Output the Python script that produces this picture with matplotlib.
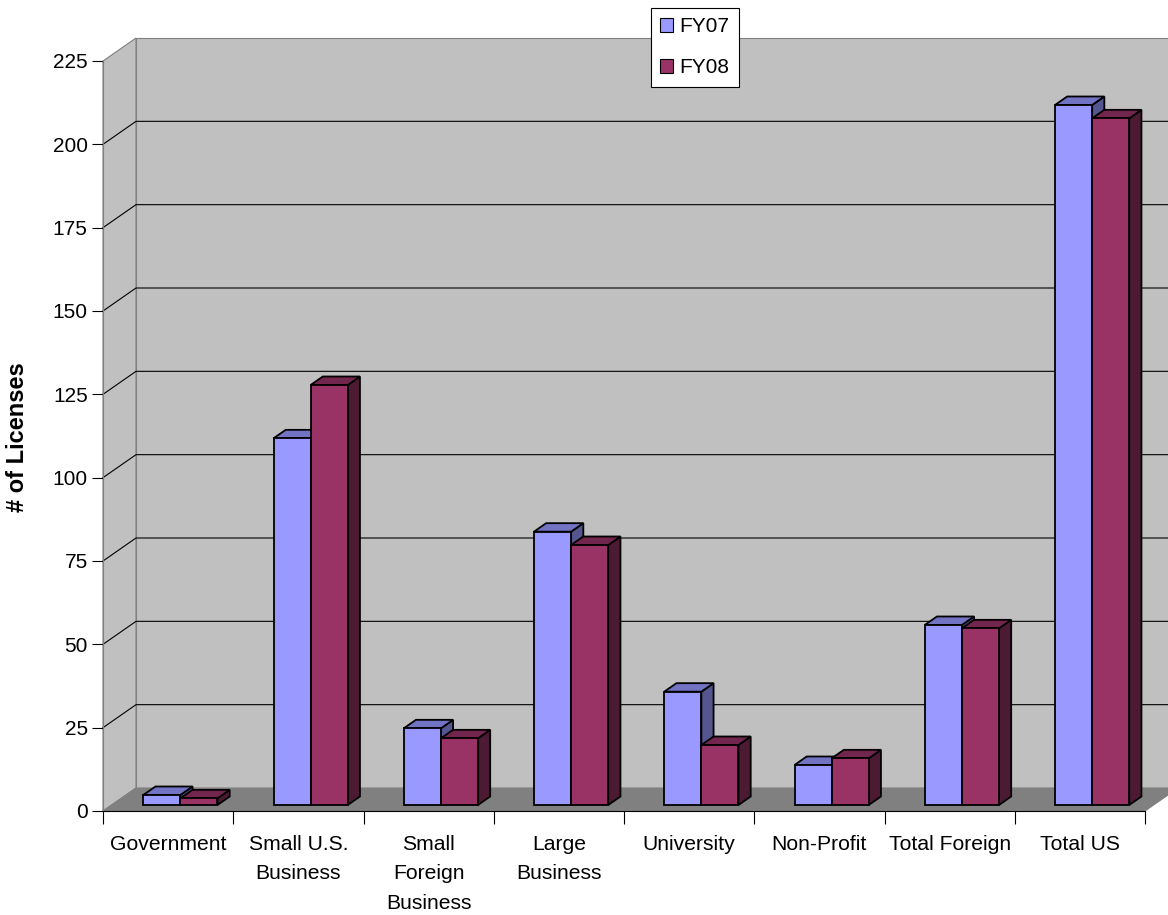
import matplotlib.pyplot as plt
from matplotlib.patches import Polygon, Patch

plt.rcParams['font.family'] = ['Liberation Sans', 'DejaVu Sans']

# License counts by customer type
categories = ['Government', 'Small U.S.\nBusiness', 'Small\nForeign\nBusiness',
              'Large\nBusiness', 'University', 'Non-Profit', 'Total Foreign', 'Total US']
fy07 = [3, 110, 23, 82, 34, 12, 54, 210]
fy08 = [2, 126, 20, 78, 18, 14, 53, 206]
series_names = ['FY07', 'FY08']
yticks = list(range(0, 226, 25))

# colours: front, top, side faces of each series
colors = {
    'FY07': ('#9999ff', '#7373c4', '#55558f'),
    'FY08': ('#993366', '#73264d', '#4d1a33'),
}

fig = plt.figure(figsize=(11.68, 9.15), dpi=100)
W, H = 1168, 915
# axes frame = front plane of the 3D box
ax = fig.add_axes([103 / W, 104 / H, 1042 / W, 750 / H])
ax.set_xlim(0, len(categories))
ax.set_ylim(0, 225)
ax.patch.set_visible(False)

px_x = 1042 / len(categories)   # pixels per category
px_y = 750 / 225                # pixels per unit

# wall depth and bar depth in data units
wdx, wdy = 33 / px_x, 23 / px_y
b0x, b0y = 8.6 / px_x, 6 / px_y      # bar front face offset
bdx, bdy = 12.2 / px_x, 8.5 / px_y   # bar depth
ncat = len(categories)

# walls and floor
back = Polygon([(wdx, wdy), (ncat + wdx, wdy), (ncat + wdx, 225 + wdy), (wdx, 225 + wdy)],
               closed=True, facecolor='#c0c0c0', edgecolor='#808080', lw=0.8,
               clip_on=False, zorder=1)
left = Polygon([(0, 0), (wdx, wdy), (wdx, 225 + wdy), (0, 225)],
               closed=True, facecolor='#c0c0c0', edgecolor='#808080', lw=0.8,
               clip_on=False, zorder=1)
floor = Polygon([(0, 0), (ncat, 0), (ncat + wdx, wdy), (wdx, wdy)],
                closed=True, facecolor='#808080', edgecolor='#808080', lw=0.8,
                clip_on=False, zorder=2)
for p in (back, left, floor):
    ax.add_patch(p)

# gridlines on back and left walls
for v in yticks[1:-1]:
    ax.plot([0, wdx, ncat + wdx], [v, v + wdy, v + wdy], color='black', lw=0.8,
            clip_on=False, zorder=1.5)

# 3D bars
bar_w = 0.285
start = 0.243
for i in range(ncat):
    for j, (name, vals) in enumerate(zip(series_names, [fy07, fy08])):
        front_c, top_c, side_c = colors[name]
        v = vals[i]
        x0 = i + start + j * bar_w + b0x
        x1 = x0 + bar_w
        y0 = b0y
        y1 = v + b0y
        z = 3 + i * 0.1 + j * 0.01
        face = Polygon([(x0, y0), (x1, y0), (x1, y1), (x0, y1)], closed=True,
                       facecolor=front_c, edgecolor='black', lw=1.3, clip_on=False, zorder=z)
        top = Polygon([(x0, y1), (x1, y1), (x1 + bdx, y1 + bdy), (x0 + bdx, y1 + bdy)],
                      closed=True, facecolor=top_c, edgecolor='black', lw=1.3,
                      clip_on=False, zorder=z)
        side = Polygon([(x1, y0), (x1 + bdx, y0 + bdy), (x1 + bdx, y1 + bdy), (x1, y1)],
                       closed=True, facecolor=side_c, edgecolor='black', lw=1.3,
                       clip_on=False, zorder=z)
        ax.add_patch(side)
        ax.add_patch(top)
        ax.add_patch(face)

# axes styling
for s in ('top', 'right'):
    ax.spines[s].set_visible(False)
ax.spines['left'].set_color('#808080')
ax.spines['bottom'].set_color('black')
ax.spines['left'].set_zorder(2.5)
ax.spines['bottom'].set_zorder(2.5)

ax.set_yticks(yticks)
ax.tick_params(axis='y', direction='out', length=8, width=0.8, pad=3, labelsize=15)
ax.set_xticks(range(ncat + 1))
ax.set_xticklabels([])
ax.tick_params(axis='x', which='major', direction='out', length=9, width=0.8)
ax.set_xticks([i + 0.5 for i in range(ncat)], minor=True)
ax.set_xticklabels(categories, minor=True, fontsize=15.2, linespacing=1.72)
ax.tick_params(axis='x', which='minor', length=0, pad=17)

fig.text(18 / W, 1 - 437 / H, '# of Licenses', rotation=90, ha='center', va='center',
         fontsize=17, fontweight='bold')

handles = [Patch(facecolor=colors[n][0], edgecolor='black', lw=0.8) for n in series_names]
leg = ax.legend(handles, series_names, loc='upper left',
                bbox_to_anchor=(651 / W, 1 - 8 / H), bbox_transform=fig.transFigure,
                fontsize=15, frameon=True, fancybox=False, framealpha=1,
                edgecolor='black', borderpad=0.45, handlelength=0.6, handleheight=0.6,
                handletextpad=0.3, labelspacing=1.05, borderaxespad=0)
leg.get_frame().set_linewidth(0.8)
leg.set_zorder(20)

fig.savefig('out.png', dpi=100)
